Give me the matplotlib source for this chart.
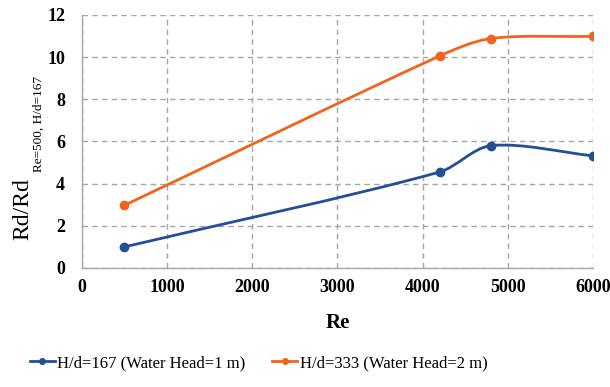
import numpy as np
import matplotlib
matplotlib.use("Agg")
import matplotlib.pyplot as plt
from matplotlib.path import Path
from matplotlib.patches import PathPatch
from matplotlib.lines import Line2D

plt.rcParams["font.family"] = ["Liberation Serif", "DejaVu Serif"]

re_values = [500, 4200, 4800, 6000]
ratio_h167 = [1.0, 4.55, 5.8, 5.32]
ratio_h333 = [2.97, 10.05, 10.88, 10.98]
series_labels = ["H/d=167 (Water Head=1 m)", "H/d=333 (Water Head=2 m)"]
series_colors = ["#234F96", "#F0641E"]
x_ticks = [0, 1000, 2000, 3000, 4000, 5000, 6000]
y_ticks = [0, 2, 4, 6, 8, 10, 12]

fig = plt.figure(figsize=(6.10, 3.87), dpi=100)
ax = fig.add_axes([0.134, 0.3075, 0.838, 0.654])
ax.set_xlim(0, 6000)
ax.set_ylim(0, 12)


def smooth_path(ax, xs, ys, k=0.3):
    """Smoothed Bezier through the points, computed in display space."""
    pts = ax.transData.transform(np.column_stack([xs, ys]))
    n = len(pts)
    tangents = []
    for i in range(n):
        a = pts[max(i - 1, 0)]
        b = pts[min(i + 1, n - 1)]
        d = b - a
        tangents.append(d / np.linalg.norm(d))
    verts = [pts[0]]
    codes = [Path.MOVETO]
    for i in range(n - 1):
        p1, p2 = pts[i], pts[i + 1]
        seg = np.linalg.norm(p2 - p1)
        c1 = p1 + tangents[i] * seg * k
        c2 = p2 - tangents[i + 1] * seg * k
        verts += [c1, c2, p2]
        codes += [Path.CURVE4] * 3
    verts = ax.transData.inverted().transform(np.array(verts))
    return Path(verts, codes)


for ys, col in zip([ratio_h167, ratio_h333], series_colors):
    path = smooth_path(ax, re_values, ys)
    ax.add_patch(PathPatch(path, facecolor="none", edgecolor=col, lw=2.0,
                           capstyle="round", joinstyle="round", zorder=3))
    ax.plot(re_values, ys, linestyle="none", marker="o", markersize=6,
            color=col, zorder=4)

ax.set_xticks(x_ticks)
ax.set_yticks(y_ticks)
ax.set_xticklabels([str(v) for v in x_ticks], fontsize=13, fontweight="bold")
ax.set_yticklabels([str(v) for v in y_ticks], fontsize=13, fontweight="bold")
ax.tick_params(axis="x", length=0, pad=8)
ax.tick_params(axis="y", length=0, pad=12)
ax.grid(True, linestyle=(0, (4, 3)), color="#A6A6A6", linewidth=1.0)
ax.set_axisbelow(True)
for s in ["top", "right"]:
    ax.spines[s].set_visible(False)
for s in ["left", "bottom"]:
    ax.spines[s].set_color("#A6A6A6")
    ax.spines[s].set_linewidth(1.0)

ax.set_xlabel("Re", fontsize=15, fontweight="bold", labelpad=12)

# y-axis title with a subscript, drawn as two rotated texts
fig.text(0.038, 0.380, "Rd/Rd", rotation=90, fontsize=17,
         ha="center", va="bottom")
fig.text(0.063, 0.556, "Re=500, H/d=167", rotation=90, fontsize=9.5,
         ha="center", va="bottom")

handles = [Line2D([0], [0], color=c, lw=2, marker="o", markersize=4)
           for c in series_colors]
fig.legend(handles, series_labels, loc="center left",
           bbox_to_anchor=(0.049, 0.062), ncol=2, frameon=False, fontsize=12,
           handlelength=1.5, handletextpad=0.15, columnspacing=1.6,
           borderaxespad=0, borderpad=0)

fig.savefig("out.png", dpi=100)
